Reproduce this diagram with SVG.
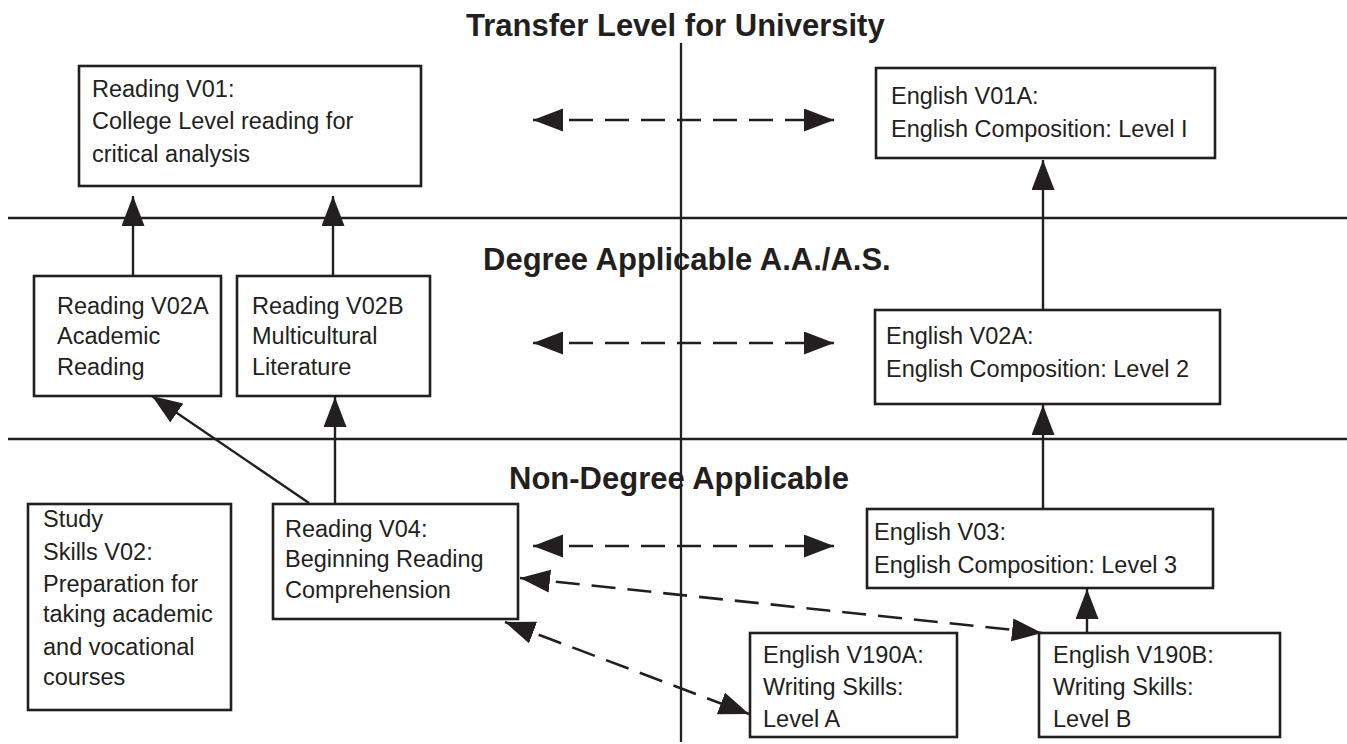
<svg xmlns="http://www.w3.org/2000/svg" width="1347" height="744" viewBox="0 0 1347 744">
<defs>
<marker id="ah" markerUnits="userSpaceOnUse" markerWidth="32" markerHeight="26" refX="30" refY="11.5" orient="auto-start-reverse"><path d="M0,0 L30,11.5 L0,23 z" fill="#231f20"/></marker>
<style>
.box{fill:#fff;stroke:#231f20;stroke-width:2.6}
.t{font-family:"Liberation Sans",Arial,sans-serif;font-size:23.5px;fill:#231f20}
.h{font-family:"Liberation Sans",Arial,sans-serif;font-size:31px;font-weight:bold;fill:#231f20}
.ln{stroke:#231f20;stroke-width:2.3;fill:none}
.ar{stroke:#231f20;stroke-width:2.4;fill:none;marker-end:url(#ah)}
.da{stroke:#231f20;stroke-width:2.6;fill:none;stroke-dasharray:24 12;marker-start:url(#ah);marker-end:url(#ah)}
</style>
</defs>
<rect width="1347" height="744" fill="#fff"/>
<g id="frame">
<line class="ln" x1="681" y1="43" x2="681" y2="742"/>
<line class="ln" x1="8" y1="218" x2="1347" y2="218"/>
<line class="ln" x1="8" y1="439" x2="1347" y2="439"/>
<text class="h" x="466" y="36">Transfer Level for University</text>
<text class="h" x="483" y="270">Degree Applicable A.A./A.S.</text>
<text class="h" x="509" y="489">Non-Degree Applicable</text>
</g>
<g id="connectors">
<line class="ar" x1="133" y1="276" x2="133" y2="196"/>
<line class="ar" x1="333" y1="276" x2="333" y2="196"/>
<line class="ar" x1="309" y1="503" x2="152" y2="396"/>
<line class="ar" x1="335" y1="503" x2="335" y2="397"/>
<line class="ar" x1="1043" y1="310" x2="1043" y2="160"/>
<line class="ar" x1="1043" y1="509" x2="1043" y2="405"/>
<line class="ar" x1="1087" y1="633" x2="1087" y2="589"/>
<line class="da" x1="533" y1="120" x2="834" y2="120"/>
<line class="da" x1="533" y1="343" x2="834" y2="343"/>
<line class="da" x1="533" y1="546" x2="834" y2="546"/>
<line class="da" x1="520" y1="578" x2="1042" y2="633"/>
<line class="da" x1="505" y1="622" x2="749" y2="714"/>
</g>
<g id="reading-v01">
<rect class="box" x="79" y="66" width="342" height="120"/>
<text class="t" x="92" y="97">Reading V01:</text>
<text class="t" x="92" y="129">College Level reading for</text>
<text class="t" x="92" y="162">critical analysis</text>
</g>
<g id="english-v01a">
<rect class="box" x="876" y="68" width="339" height="90"/>
<text class="t" x="891" y="104">English V01A:</text>
<text class="t" x="891" y="137">English Composition: Level I</text>
</g>
<g id="reading-v02a">
<rect class="box" x="34" y="276" width="187" height="120"/>
<text class="t" x="57" y="314">Reading V02A</text>
<text class="t" x="57" y="344">Academic</text>
<text class="t" x="57" y="375">Reading</text>
</g>
<g id="reading-v02b">
<rect class="box" x="237" y="276" width="193" height="120"/>
<text class="t" x="252" y="314">Reading V02B</text>
<text class="t" x="252" y="344">Multicultural</text>
<text class="t" x="252" y="375">Literature</text>
</g>
<g id="english-v02a">
<rect class="box" x="875" y="310" width="345" height="94"/>
<text class="t" x="886" y="344">English V02A:</text>
<text class="t" x="886" y="377">English Composition: Level 2</text>
</g>
<g id="study-skills-v02">
<rect class="box" x="28" y="504" width="203" height="206"/>
<text class="t" x="43" y="527">Study</text>
<text class="t" x="43" y="560">Skills V02:</text>
<text class="t" x="43" y="592">Preparation for</text>
<text class="t" x="43" y="622">taking academic</text>
<text class="t" x="43" y="655">and vocational</text>
<text class="t" x="43" y="685">courses</text>
</g>
<g id="reading-v04">
<rect class="box" x="273" y="504" width="245" height="115"/>
<text class="t" x="285" y="537">Reading V04:</text>
<text class="t" x="285" y="567">Beginning Reading</text>
<text class="t" x="285" y="598">Comprehension</text>
</g>
<g id="english-v03">
<rect class="box" x="867" y="509" width="346" height="79"/>
<text class="t" x="874" y="540">English V03:</text>
<text class="t" x="874" y="573">English Composition: Level 3</text>
</g>
<g id="english-v190a">
<rect class="box" x="750" y="633" width="207" height="104"/>
<text class="t" x="763" y="663">English V190A:</text>
<text class="t" x="763" y="695">Writing Skills:</text>
<text class="t" x="763" y="727">Level A</text>
</g>
<g id="english-v190b">
<rect class="box" x="1039" y="633" width="241" height="104"/>
<text class="t" x="1053" y="663">English V190B:</text>
<text class="t" x="1053" y="695">Writing Skills:</text>
<text class="t" x="1053" y="727">Level B</text>
</g>
</svg>
